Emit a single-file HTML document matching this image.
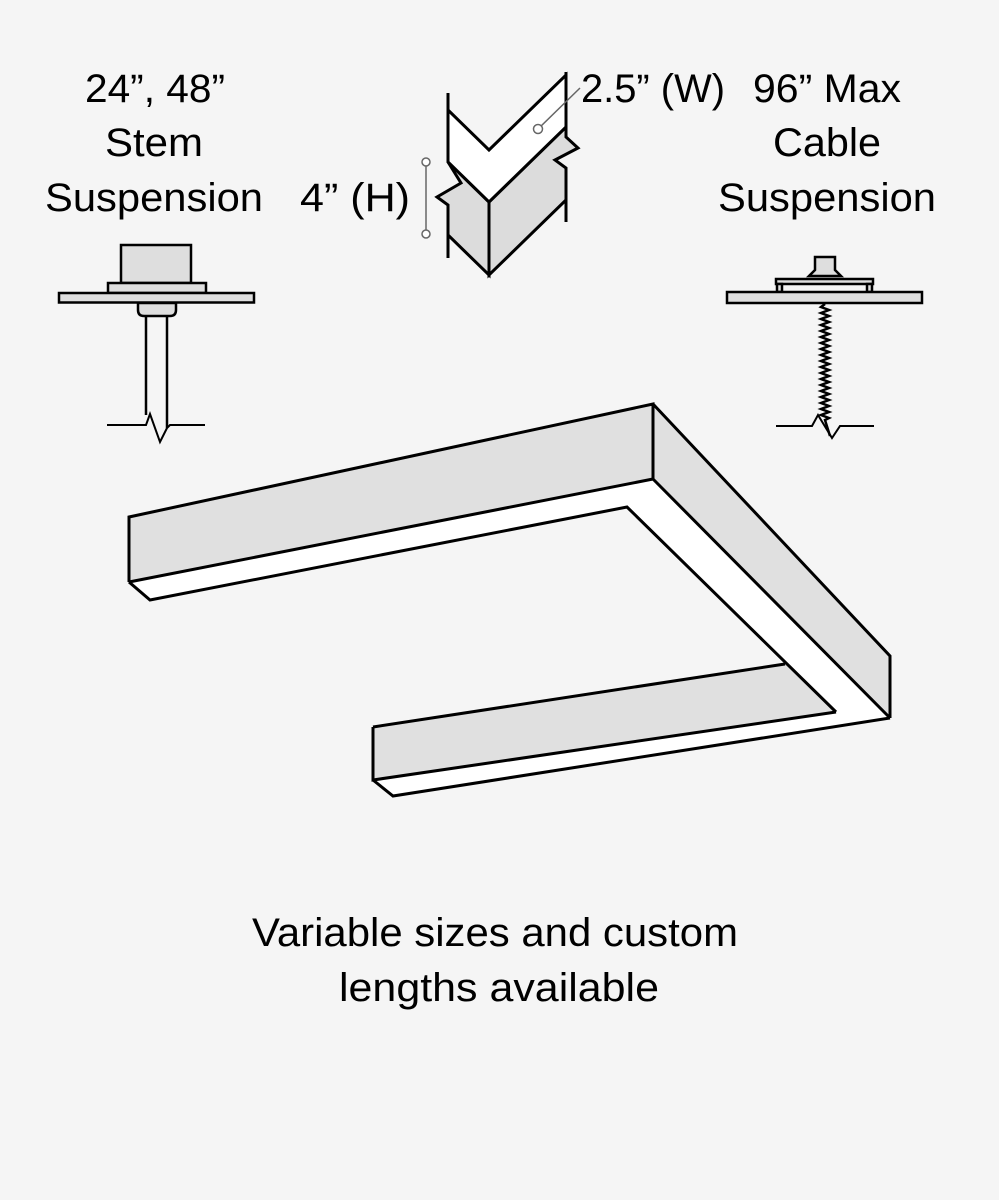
<!DOCTYPE html>
<html><head><meta charset="utf-8"><style>html,body{margin:0;padding:0;background:#f5f5f5}svg{display:block}</style></head><body>
<svg width="999" height="1200" viewBox="0 0 999 1200" xmlns="http://www.w3.org/2000/svg" font-family="Liberation Sans, sans-serif" fill="#000">
<rect width="999" height="1200" fill="#f5f5f5"/>
<g font-size="40" text-anchor="middle">
<text x="155" y="102" textLength="140" lengthAdjust="spacingAndGlyphs">24”, 48”</text>
<text x="154" y="156" textLength="98" lengthAdjust="spacingAndGlyphs">Stem</text>
<text x="154" y="211" textLength="218" lengthAdjust="spacingAndGlyphs">Suspension</text>
<text x="827" y="102" textLength="148" lengthAdjust="spacingAndGlyphs">96” Max</text>
<text x="827" y="156" textLength="108" lengthAdjust="spacingAndGlyphs">Cable</text>
<text x="827" y="211" textLength="218" lengthAdjust="spacingAndGlyphs">Suspension</text>
<text x="355" y="211" textLength="110" lengthAdjust="spacingAndGlyphs">4”  (H)</text>
<text x="653" y="102" textLength="144" lengthAdjust="spacingAndGlyphs">2.5” (W)</text>
<text x="495" y="946" textLength="486" lengthAdjust="spacingAndGlyphs">Variable sizes and custom</text>
<text x="499" y="1001" textLength="320" lengthAdjust="spacingAndGlyphs">lengths available</text>
</g>
<g stroke="#000" stroke-width="3" stroke-linejoin="miter">
<!-- profile -->
<polygon points="448,162 461,183 437,197 448,205 448,235 489,275 489,202" fill="#dcdcdc"/>
<polygon points="489,202 566,127 566,137 578,148 555,160 566,168 566,200 489,275" fill="#dcdcdc"/>
<polygon points="448,110 489,150 566,75 566,127 489,202 448,162" fill="#fff"/>
<line x1="489" y1="202" x2="489" y2="275"/>
<polyline points="448,93 448,162" fill="none"/>
<polyline points="448,235 448,258" fill="none"/>
<polyline points="566,72 566,127" fill="none"/>
<polyline points="566,200 566,222" fill="none"/>
</g>
<g stroke="#666" stroke-width="1.5" fill="#fff">
<line x1="426" y1="162" x2="426" y2="234"/>
<circle cx="426" cy="162" r="4"/><circle cx="426" cy="234" r="4"/>
<line x1="538" y1="129" x2="580" y2="88"/>
<circle cx="538" cy="129" r="4.5"/>
</g>
<!-- stem -->
<g stroke="#000" stroke-width="2.5" fill="#dedede">
<rect x="121" y="245" width="70" height="38"/>
<rect x="108" y="283" width="98" height="10"/>
<rect x="59" y="293" width="195" height="9.5"/>
<path d="M138,303 H176 V310 Q176,316 170,316 H144 Q138,316 138,310 Z"/>
<path d="M146,316 V415 M167,316 V428" fill="none"/>
<path d="M107,425 H146 L150,414 L160,442 L167,428 L170,425 H205" fill="none" stroke-width="2"/>
</g>
<!-- cable -->
<g stroke="#000" stroke-width="2.5" fill="#dedede">
<path d="M815,257 H835 V270 L841,276 H809 L815,270 Z"/>
<rect x="776" y="279" width="97" height="5"/>
<rect x="777" y="284" width="5" height="8"/><rect x="867" y="284" width="5" height="8"/>
<rect x="727" y="292" width="195" height="11"/>
<polyline fill="none" stroke-width="2.5" points="825,304 821,307 829,310 821,313 829,316 821,319 829,322 821,325 829,328 821,331 829,334 821,337 829,340 821,343 829,346 821,349 829,352 821,355 829,358 821,361 829,364 821,367 829,370 821,373 829,376 821,379 829,382 821,385 829,388 821,391 829,394 821,397 829,400 821,403 829,406 821,409 829,412 821,415 829,418 825,420 830,436"/>
<path d="M776,426 H812 L818,415 L832,438 L840,426 H874" fill="none" stroke-width="2"/>
</g>
<!-- U shape fills -->
<g stroke="none">
<polygon points="129,582 653,479 890,718 393,796 373,780 836,712 627,507 150,600" fill="#fff"/>
<polygon points="129,517 653,404 653,479 129,582" fill="#e0e0e0"/>
<polygon points="653,404 890,656 890,718 653,479" fill="#e0e0e0"/>
<polygon points="373,727 785,664 836,712 373,780" fill="#e0e0e0"/>
</g>
<g stroke="#000" stroke-width="3" fill="none" stroke-linejoin="miter">
<polyline points="129,582 129,517 653,404 653,479"/>
<line x1="129" y1="582" x2="653" y2="479"/>
<polyline points="129,582 150,600 627,507 836,712"/>
<polyline points="653,404 890,656 890,718"/>
<line x1="653" y1="479" x2="890" y2="718"/>
<line x1="373" y1="727" x2="785" y2="664"/>
<polyline points="373,727 373,780 836,712"/>
<polyline points="373,780 393,796 890,718"/>
</g>
</svg>
</body></html>
